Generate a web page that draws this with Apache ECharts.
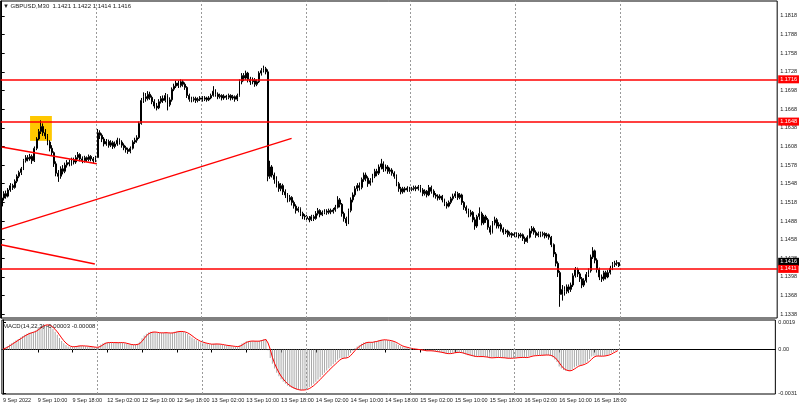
<!DOCTYPE html>
<html><head><meta charset="utf-8">
<script src="https://cdn.jsdelivr.net/npm/echarts@6/dist/echarts.min.js"></script>
<style>html,body{margin:0;padding:0;background:#fff}#c{width:800px;height:408px}</style>
</head><body><div id="c"></div>
<script>
const symbolTitle = '\u25BC GBPUSD,M30  1.1421 1.1422 1.1414 1.1416';
const macdTitle = 'MACD(14,22,3) -0.00003 -0.00008';
const timeLabels = ['9 Sep 2022','9 Sep 10:00','9 Sep 18:00','12 Sep 02:00','12 Sep 10:00','12 Sep 18:00','13 Sep 02:00','13 Sep 10:00','13 Sep 18:00','14 Sep 02:00','14 Sep 10:00','14 Sep 18:00','15 Sep 02:00','15 Sep 10:00','15 Sep 18:00','16 Sep 02:00','16 Sep 10:00','16 Sep 18:00'];
const priceTicks = [1.1338,1.1368,1.1398,1.1428,1.1458,1.1488,1.1518,1.1548,1.1578,1.1608,1.1638,1.1668,1.1698,1.1728,1.1758,1.1788,1.1818];
const levels = [1.1716, 1.1648, 1.1411];
const currentPrice = 1.1416;
const macdTicks = [0.0019, 0, -0.0031];
const dayBreaks = [43.5, 91.5, 139.5, 187.5, 235.5, 283.5];
const trendLines = [
  [[0, 1.1607], [43.6, 1.1580]],
  [[0, 1.1475], [132.9, 1.1621]],
  [[-0.3, 1.1450], [42.7, 1.1419]]
];
const highlightBox = [[13, 1.1657], [23, 1.1617]];
const firstOpen = 1.1512;
const closes = [
1.1525,1.1532,1.1528,1.1538,1.1545,1.1542,1.1552,1.1560,1.1566,1.1572,
1.1585,1.1590,1.1588,1.1592,1.1585,1.1605,1.1620,1.1632,1.1640,1.1630,
1.1625,1.1615,1.1605,1.1598,1.1580,1.1565,1.1560,1.1572,1.1568,1.1578,
1.1582,1.1580,1.1586,1.1583,1.1590,1.1595,1.1588,1.1585,1.1590,1.1587,
1.1592,1.1588,1.1585,1.1590,
1.1630,1.1626,1.1620,1.1612,1.1616,1.1610,1.1614,1.1608,1.1612,1.1618,
1.1615,1.1610,1.1606,1.1603,1.1600,1.1605,1.1615,1.1618,1.1622,1.1645,
1.1682,1.1688,1.1685,1.1692,1.1687,1.1680,1.1673,1.1670,1.1680,1.1685,
1.1682,1.1690,1.1675,1.1683,1.1700,1.1705,1.1710,1.1706,1.1712,1.1708,
1.1703,1.1690,1.1684,1.1683,1.1685,1.1682,1.1684,1.1686,
1.1684,1.1686,1.1683,1.1686,1.1690,1.1697,1.1692,1.1688,1.1690,1.1686,
1.1689,1.1687,1.1690,1.1686,1.1688,1.1684,1.1690,1.1712,1.1722,1.1718,
1.1726,1.1716,1.1712,1.1715,1.1708,1.1712,1.1726,1.1730,1.1733,1.1728,
1.1560,1.1575,1.1562,1.1555,1.1548,1.1540,1.1545,1.1535,1.1530,1.1522,
1.1526,1.1518,1.1512,1.1505,1.1508,1.1500,1.1496,1.1495,
1.1492,1.1490,1.1495,1.1492,1.1500,1.1505,1.1498,1.1502,1.1504,1.1502,
1.1505,1.1503,1.1506,1.1510,1.1522,1.1515,1.1500,1.1492,1.1485,1.1505,
1.1522,1.1530,1.1540,1.1545,1.1542,1.1555,1.1562,1.1557,1.1548,1.1553,
1.1560,1.1568,1.1565,1.1575,1.1580,1.1572,1.1575,1.1568,1.1570,1.1565,
1.1560,1.1548,1.1540,1.1535,1.1540,1.1538,1.1541,1.1539,
1.1540,1.1542,1.1540,1.1543,1.1538,1.1532,1.1536,1.1530,1.1542,1.1536,
1.1530,1.1528,1.1525,1.1528,1.1522,1.1516,1.1512,1.1518,1.1524,1.1528,
1.1532,1.1526,1.1530,1.1518,1.1510,1.1505,1.1498,1.1502,1.1490,1.1480,
1.1495,1.1500,1.1485,1.1495,1.1490,1.1478,1.1470,1.1485,1.1490,1.1480,
1.1482,1.1475,1.1470,1.1472,1.1466,1.1468,1.1465,1.1467,
1.1466,1.1464,1.1466,1.1460,1.1455,1.1462,1.1472,1.1476,1.1470,1.1465,
1.1468,1.1466,1.1468,1.1464,1.1466,1.1462,1.1450,1.1435,1.1420,1.1405,
1.1370,1.1378,1.1375,1.1382,1.1378,1.1385,1.1400,1.1410,1.1403,1.1395,
1.1385,1.1392,1.1402,1.1408,1.1430,1.1440,1.1425,1.1410,1.1398,1.1395,
1.1405,1.1398,1.1405,1.1412,1.1418,1.1420,1.1421,1.1416
];
const lows = [
1.1508,1.1521,1.1524,1.1526,1.1535,1.1538,1.1540,1.1549,1.1557,1.1562,
1.1570,1.1582,1.1584,1.1585,1.1580,1.1583,1.1602,1.1618,1.1628,1.1625,
1.1620,1.1610,1.1600,1.1593,1.1575,1.1560,1.1551,1.1556,1.1563,1.1565,
1.1574,1.1576,1.1577,1.1579,1.1580,1.1587,1.1584,1.1581,1.1582,1.1583,
1.1584,1.1584,1.1581,1.1583,
1.1590,1.1620,1.1615,1.1608,1.1609,1.1606,1.1607,1.1604,1.1605,1.1609,
1.1611,1.1606,1.1602,1.1598,1.1596,1.1597,1.1603,1.1612,1.1614,1.1620,
1.1643,1.1678,1.1680,1.1682,1.1683,1.1676,1.1669,1.1666,1.1668,1.1677,
1.1678,1.1679,1.1666,1.1672,1.1680,1.1697,1.1702,1.1702,1.1703,1.1704,
1.1699,1.1686,1.1680,1.1679,1.1680,1.1678,1.1679,1.1681,
1.1680,1.1681,1.1680,1.1681,1.1684,1.1688,1.1688,1.1684,1.1685,1.1682,
1.1683,1.1683,1.1684,1.1682,1.1683,1.1680,1.1681,1.1688,1.1708,1.1713,
1.1715,1.1711,1.1707,1.1708,1.1704,1.1705,1.1710,1.1722,1.1727,1.1724,
1.1552,1.1556,1.1558,1.1548,1.1542,1.1535,1.1536,1.1530,1.1525,1.1518,
1.1519,1.1513,1.1508,1.1500,1.1502,1.1496,1.1491,1.1490,
1.1487,1.1486,1.1488,1.1488,1.1490,1.1497,1.1494,1.1496,1.1499,1.1498,
1.1499,1.1499,1.1500,1.1503,1.1508,1.1510,1.1495,1.1487,1.1480,1.1483,
1.1502,1.1518,1.1527,1.1536,1.1537,1.1539,1.1551,1.1552,1.1543,1.1545,
1.1550,1.1557,1.1560,1.1562,1.1571,1.1567,1.1568,1.1564,1.1564,1.1561,
1.1556,1.1544,1.1535,1.1531,1.1532,1.1534,1.1535,1.1535,
1.1536,1.1537,1.1536,1.1537,1.1534,1.1528,1.1529,1.1526,1.1528,1.1532,
1.1526,1.1524,1.1521,1.1522,1.1518,1.1512,1.1508,1.1510,1.1515,1.1521,
1.1525,1.1522,1.1523,1.1514,1.1506,1.1500,1.1494,1.1495,1.1486,1.1474,
1.1477,1.1490,1.1481,1.1482,1.1485,1.1474,1.1466,1.1468,1.1481,1.1476,
1.1476,1.1471,1.1466,1.1467,1.1462,1.1463,1.1461,1.1462,
1.1462,1.1460,1.1461,1.1456,1.1451,1.1453,1.1460,1.1468,1.1466,1.1461,
1.1462,1.1462,1.1463,1.1460,1.1461,1.1458,1.1446,1.1430,1.1415,1.1398,
1.1350,1.1360,1.1368,1.1371,1.1372,1.1374,1.1382,1.1397,1.1398,1.1390,
1.1380,1.1382,1.1389,1.1398,1.1405,1.1427,1.1420,1.1405,1.1393,1.1390,
1.1392,1.1394,1.1396,1.1402,1.1409,1.1414,1.1416,1.1414
];
const highs = [
1.1530,1.1536,1.1537,1.1541,1.1549,1.1548,1.1555,1.1563,1.1569,1.1575,
1.1588,1.1594,1.1594,1.1596,1.1595,1.1608,1.1623,1.1636,1.1650,1.1645,
1.1636,1.1628,1.1618,1.1610,1.1600,1.1584,1.1570,1.1576,1.1578,1.1582,
1.1586,1.1587,1.1590,1.1590,1.1594,1.1599,1.1597,1.1592,1.1593,1.1592,
1.1595,1.1594,1.1591,1.1593,
1.1636,1.1634,1.1629,1.1623,1.1620,1.1619,1.1618,1.1617,1.1616,1.1622,
1.1621,1.1618,1.1613,1.1609,1.1606,1.1608,1.1618,1.1622,1.1626,1.1648,
1.1686,1.1695,1.1694,1.1697,1.1696,1.1690,1.1684,1.1678,1.1684,1.1689,
1.1690,1.1694,1.1692,1.1687,1.1703,1.1709,1.1714,1.1714,1.1716,1.1715,
1.1711,1.1705,1.1693,1.1688,1.1688,1.1688,1.1687,1.1689,
1.1689,1.1689,1.1688,1.1689,1.1693,1.1705,1.1700,1.1695,1.1693,1.1692,
1.1692,1.1691,1.1693,1.1692,1.1691,1.1690,1.1693,1.1716,1.1726,1.1726,
1.1730,1.1728,1.1720,1.1719,1.1718,1.1716,1.1729,1.1734,1.1738,1.1736,
1.1732,1.1585,1.1578,1.1566,1.1560,1.1552,1.1549,1.1548,1.1539,1.1533,
1.1530,1.1528,1.1521,1.1515,1.1511,1.1510,1.1503,1.1499,
1.1498,1.1496,1.1498,1.1498,1.1504,1.1509,1.1507,1.1505,1.1507,1.1507,
1.1508,1.1508,1.1509,1.1514,1.1528,1.1525,1.1517,1.1503,1.1495,1.1508,
1.1526,1.1534,1.1544,1.1549,1.1550,1.1558,1.1566,1.1566,1.1560,1.1557,
1.1564,1.1572,1.1572,1.1579,1.1588,1.1584,1.1579,1.1578,1.1574,1.1573,
1.1568,1.1563,1.1551,1.1543,1.1543,1.1543,1.1544,1.1543,
1.1543,1.1545,1.1545,1.1546,1.1546,1.1541,1.1539,1.1538,1.1546,1.1545,
1.1539,1.1533,1.1531,1.1531,1.1530,1.1524,1.1519,1.1521,1.1527,1.1532,
1.1536,1.1535,1.1533,1.1532,1.1520,1.1513,1.1508,1.1506,1.1504,1.1494,
1.1498,1.1510,1.1503,1.1498,1.1498,1.1493,1.1481,1.1488,1.1495,1.1493,
1.1486,1.1485,1.1478,1.1475,1.1474,1.1471,1.1470,1.1470,
1.1470,1.1469,1.1469,1.1468,1.1463,1.1465,1.1476,1.1480,1.1479,1.1473,
1.1471,1.1471,1.1471,1.1470,1.1469,1.1468,1.1464,1.1452,1.1438,1.1423,
1.1408,1.1385,1.1383,1.1386,1.1386,1.1389,1.1404,1.1414,1.1413,1.1406,
1.1398,1.1396,1.1406,1.1412,1.1434,1.1446,1.1442,1.1428,1.1413,1.1402,
1.1408,1.1408,1.1409,1.1416,1.1422,1.1424,1.1425,1.1422
];
const macdHist = [
0.00005,0.00015,0.00025,0.00035,0.00045,0.00055,0.00065,0.00075,0.00085,0.00095,
0.00105,0.00112,0.00118,0.00122,0.00125,0.00135,0.00148,0.00160,0.00170,0.00176,
0.00176,0.00170,0.00160,0.00145,0.00125,0.00105,0.00082,0.00060,0.00045,0.00032,
0.00022,0.00018,0.00020,0.00022,0.00025,0.00027,0.00027,0.00025,0.00024,0.00022,
0.00020,0.00018,0.00016,0.00014,
0.00020,0.00035,0.00045,0.00048,0.00050,0.00050,0.00050,0.00048,0.00048,0.00049,0.00050,0.00048,0.00045,0.00040,0.00035,0.00033,
0.00033,0.00035,0.00040,0.00055,0.00080,0.00100,0.00112,0.00120,0.00125,0.00125,0.00122,0.00118,0.00118,0.00118,0.00118,0.00120,
0.00115,0.00115,0.00120,0.00125,0.00128,0.00128,0.00128,0.00125,0.00120,0.00110,0.00098,0.00085,0.00075,0.00065,0.00058,0.00052,
0.00048,0.00045,0.00040,0.00038,0.00037,0.00040,0.00040,0.00038,0.00036,0.00033,0.00030,0.00028,0.00026,0.00024,0.00022,0.00020,0.00020,
0.00030,0.00042,0.00050,0.00058,0.00060,0.00060,0.00060,0.00058,0.00058,0.00062,0.00068,0.00072,0.00072,
-0.00005,-0.00060,-0.00100,-0.00135,-0.00165,-0.00190,-0.00210,-0.00228,-0.00243,-0.00256,-0.00265,-0.00273,-0.00280,-0.00285,-0.00287,-0.00288,-0.00287,-0.00284,
-0.00278,-0.00268,-0.00256,-0.00243,-0.00228,-0.00212,-0.00196,-0.00180,-0.00164,-0.00148,-0.00133,-0.00118,-0.00104,-0.00090,-0.00072,-0.00062,-0.00060,-0.00060,-0.00060,-0.00045,
-0.00025,-0.00008,0.00010,0.00022,0.00030,0.00040,0.00050,0.00052,0.00050,0.00050,0.00053,0.00058,0.00060,0.00065,0.00070,0.00068,0.00068,0.00065,0.00062,0.00058,
0.00052,0.00042,0.00032,0.00024,0.00020,0.00015,0.00012,0.00008,
0.00005,0.00003,0.00001,0.00000,-0.00003,-0.00007,-0.00008,-0.00011,-0.00008,-0.00009,-0.00012,-0.00015,
-0.00018,-0.00019,-0.00022,-0.00027,-0.00031,-0.00030,-0.00027,-0.00023,-0.00020,-0.00021,-0.00020,-0.00025,
-0.00030,-0.00035,-0.00040,-0.00042,-0.00047,-0.00053,-0.00050,-0.00048,-0.00052,-0.00051,-0.00052,-0.00056,
-0.00062,-0.00058,-0.00055,-0.00057,-0.00056,-0.00058,-0.00060,-0.00060,-0.00062,-0.00062,-0.00062,-0.00060,
-0.00058,-0.00057,-0.00055,-0.00056,-0.00058,-0.00056,-0.00050,-0.00045,-0.00043,-0.00043,-0.00042,-0.00041,
-0.00039,-0.00039,-0.00038,-0.00039,-0.00045,-0.00055,-0.00070,-0.00088,-0.00120,-0.00135,-0.00145,-0.00150,
-0.00152,-0.00150,-0.00140,-0.00125,-0.00118,-0.00112,-0.00110,-0.00105,-0.00095,-0.00085,-0.00068,-0.00050,
-0.00045,-0.00045,-0.00048,-0.00048,-0.00045,-0.00044,-0.00040,-0.00033,-0.00025,-0.00015,-0.00008,-0.00003
];
const macdSignal = [
0.00002,0.00008,0.00015,0.00025,0.00035,0.00045,0.00055,0.00065,0.00075,0.00085,
0.00095,0.00104,0.00112,0.00117,0.00122,0.00127,0.00136,0.00148,0.00159,0.00169,
0.00174,0.00174,0.00169,0.00158,0.00143,0.00125,0.00104,0.00082,0.00062,0.00046,
0.00033,0.00024,0.00020,0.00020,0.00022,0.00025,0.00026,0.00026,0.00025,0.00024,
0.00022,0.00020,0.00018,0.00016,
0.00017,0.00023,0.00033,0.00043,0.00048,0.00049,0.00050,0.00049,0.00049,0.00048,0.00049,0.00049,0.00048,0.00044,0.00040,0.00036,
0.00034,0.00034,0.00036,0.00043,0.00058,0.00078,0.00097,0.00111,0.00119,0.00123,0.00124,0.00122,0.00119,0.00118,0.00118,0.00119,
0.00118,0.00117,0.00117,0.00120,0.00124,0.00127,0.00128,0.00127,0.00124,0.00118,0.00109,0.00098,0.00086,0.00075,0.00066,0.00058,
0.00053,0.00048,0.00044,0.00041,0.00038,0.00038,0.00039,0.00039,0.00038,0.00036,0.00033,0.00030,0.00028,0.00026,0.00024,0.00022,0.00021,
0.00023,0.00031,0.00041,0.00050,0.00056,0.00059,0.00060,0.00059,0.00059,0.00059,0.00063,0.00067,0.00071,
0.00046,0.00002,-0.00055,-0.00098,-0.00133,-0.00163,-0.00188,-0.00209,-0.00227,-0.00242,-0.00255,-0.00265,-0.00273,-0.00279,-0.00284,-0.00287,-0.00287,-0.00286,
-0.00283,-0.00277,-0.00267,-0.00256,-0.00242,-0.00228,-0.00212,-0.00196,-0.00180,-0.00164,-0.00148,-0.00133,-0.00118,-0.00104,-0.00089,-0.00075,-0.00065,-0.00061,-0.00060,-0.00055,
-0.00043,-0.00026,-0.00008,0.00008,0.00021,0.00031,0.00040,0.00047,0.00051,0.00051,0.00051,0.00054,0.00057,0.00061,0.00065,0.00068,0.00069,0.00067,0.00065,0.00062,
0.00057,0.00051,0.00042,0.00033,0.00025,0.00020,0.00016,0.00012,
0.00008,0.00005,0.00003,0.00001,-0.00001,-0.00003,-0.00006,-0.00009,-0.00009,-0.00009,-0.00010,-0.00012,
-0.00015,-0.00017,-0.00020,-0.00023,-0.00027,-0.00029,-0.00029,-0.00027,-0.00023,-0.00021,-0.00020,-0.00022,
-0.00025,-0.00030,-0.00035,-0.00039,-0.00043,-0.00047,-0.00050,-0.00050,-0.00050,-0.00050,-0.00052,-0.00053,
-0.00057,-0.00059,-0.00058,-0.00057,-0.00056,-0.00057,-0.00058,-0.00059,-0.00061,-0.00062,-0.00062,-0.00061,
-0.00060,-0.00058,-0.00057,-0.00056,-0.00056,-0.00057,-0.00055,-0.00050,-0.00046,-0.00044,-0.00043,-0.00042,
-0.00041,-0.00040,-0.00039,-0.00039,-0.00041,-0.00046,-0.00057,-0.00071,-0.00093,-0.00114,-0.00133,-0.00143,
-0.00149,-0.00151,-0.00147,-0.00138,-0.00128,-0.00118,-0.00113,-0.00109,-0.00103,-0.00095,-0.00083,-0.00068,
-0.00054,-0.00047,-0.00046,-0.00047,-0.00047,-0.00046,-0.00043,-0.00039,-0.00033,-0.00024,-0.00016,-0.00008
];

const SLOTS = 356;
const cats = Array.from({length: SLOTS}, (_, i) => String(i));
const opens = closes.map((c, i) => i === 0 ? firstOpen : closes[i - 1]);
const candleData = closes.map((c, i) => [opens[i], c, lows[i], highs[i]]);
const isLabelBar = (idx) => idx % 16 === 0 && idx < closes.length;
const FONT = 'Liberation Sans, Arial, sans-serif';
const TXT = '#1a1a1a';

const chart = echarts.init(document.getElementById('c'), null, {renderer: 'canvas', devicePixelRatio: 1});
chart.setOption({
  animation: false,
  backgroundColor: '#ffffff',
  textStyle: {fontFamily: FONT},
  title: [
    {text: symbolTitle, left: 3, top: 3, padding: 0, textStyle: {fontSize: 6, fontWeight: 'normal', color: TXT, fontFamily: FONT}},
    {text: macdTitle, left: 3, top: 323, padding: 0, textStyle: {fontSize: 6, fontWeight: 'normal', color: TXT, fontFamily: FONT}}
  ],
  grid: [
    {left: 0.6, top: 1, width: 777.4, height: 317, show: true, borderColor: '#000', borderWidth: 1, backgroundColor: '#fff'},
    {left: 0.6, top: 320, width: 777.4, height: 74, show: true, borderColor: '#000', borderWidth: 1, backgroundColor: '#fff'}
  ],
  xAxis: [
    {type: 'category', gridIndex: 0, data: cats, boundaryGap: true, axisLine: {show: false}, axisTick: {show: false}, axisLabel: {show: false}, splitLine: {show: false}},
    {type: 'category', gridIndex: 1, data: cats, boundaryGap: true,
      axisLine: {show: true, lineStyle: {color: '#000', width: 1}},
      axisTick: {show: true, interval: isLabelBar, alignWithLabel: true, length: 3, lineStyle: {color: '#000'}},
      axisLabel: {interval: isLabelBar, formatter: (v, idx) => timeLabels[idx / 16] || '', align: 'left', fontSize: 5.5, margin: 3, color: TXT, fontFamily: FONT},
      splitLine: {show: false}},
    {type: 'value', gridIndex: 0, min: -0.5, max: SLOTS - 0.5, show: false},
    {type: 'value', gridIndex: 1, min: -0.5, max: SLOTS - 0.5, show: false}
  ],
  yAxis: [
    {type: 'value', gridIndex: 0, position: 'right', min: 1.1332, max: 1.1842, scale: true,
      axisLine: {show: true, lineStyle: {color: '#000'}},
      axisTick: {show: true, length: 3, customValues: priceTicks, lineStyle: {color: '#000'}},
      axisLabel: {customValues: priceTicks, formatter: v => v.toFixed(4), fontSize: 5.5, margin: 3, color: TXT, fontFamily: FONT},
      splitLine: {show: false}},
    {type: 'value', gridIndex: 1, position: 'right', min: -0.00315, max: 0.00209,
      axisLine: {show: true, lineStyle: {color: '#000'}},
      axisTick: {show: true, length: 3, customValues: macdTicks, lineStyle: {color: '#000'}},
      axisLabel: {customValues: macdTicks, formatter: v => v === 0 ? '0.00' : v.toFixed(4), fontSize: 5.5, margin: 3, color: TXT, fontFamily: FONT},
      splitLine: {show: false}}
  ],
  series: [
    {type: 'line', xAxisIndex: 2, yAxisIndex: 0, data: [], silent: true,
      markArea: {silent: true, itemStyle: {color: '#ffc800'}, data: [[{coord: highlightBox[0]}, {coord: highlightBox[1]}]]},
      markLine: {silent: true, symbol: 'none', precision: 5, label: {show: false},
        lineStyle: {color: '#999', type: [2, 2], width: 1},
        data: dayBreaks.map(v => ({xAxis: v}))}},
    {type: 'candlestick', xAxisIndex: 0, yAxisIndex: 0, data: candleData, barWidth: 1.4, z: 3,
      itemStyle: {color: '#ffffff', color0: '#000000', borderColor: '#000000', borderColor0: '#000000', borderWidth: 1}},
    ...trendLines.map(seg => ({type: 'line', xAxisIndex: 2, yAxisIndex: 0, data: seg, symbol: 'none', silent: true, z: 4,
      lineStyle: {color: '#ff0000', width: 1.5}})),
    {type: 'line', xAxisIndex: 2, yAxisIndex: 0, data: [], silent: true, z: 5,
      markLine: {silent: true, symbol: 'none', precision: 5,
        data: [
          {yAxis: currentPrice, lineStyle: {width: 0, color: 'rgba(0,0,0,0)'}, label: {show: true, position: 'end', distance: 1, offset: [0, -4], formatter: () => currentPrice.toFixed(4), backgroundColor: '#000', color: '#fff', padding: [1, 2], fontSize: 5.5, fontFamily: FONT}},
          ...levels.map(v => ({yAxis: v, lineStyle: {color: '#ff0000', width: 1.5, type: 'solid'},
            label: {show: true, position: 'end', distance: 1, formatter: () => v.toFixed(4), backgroundColor: '#ff0000', color: '#fff', padding: [1, 2], fontSize: 5.5, fontFamily: FONT}}))
        ]}},
    {type: 'line', xAxisIndex: 3, yAxisIndex: 1, data: [], silent: true,
      markLine: {silent: true, symbol: 'none', precision: 5, label: {show: false},
        lineStyle: {color: '#999', type: [2, 2], width: 1},
        data: dayBreaks.map(v => ({xAxis: v}))}},
    {type: 'bar', xAxisIndex: 1, yAxisIndex: 1, data: macdHist, barWidth: 1, itemStyle: {color: '#a8a8a8'}, silent: true},
    {type: 'line', xAxisIndex: 1, yAxisIndex: 1, data: macdSignal, symbol: 'none', silent: true, z: 4,
      lineStyle: {color: '#ff0000', width: 1}}
  ]
});
</script>
</body></html>
